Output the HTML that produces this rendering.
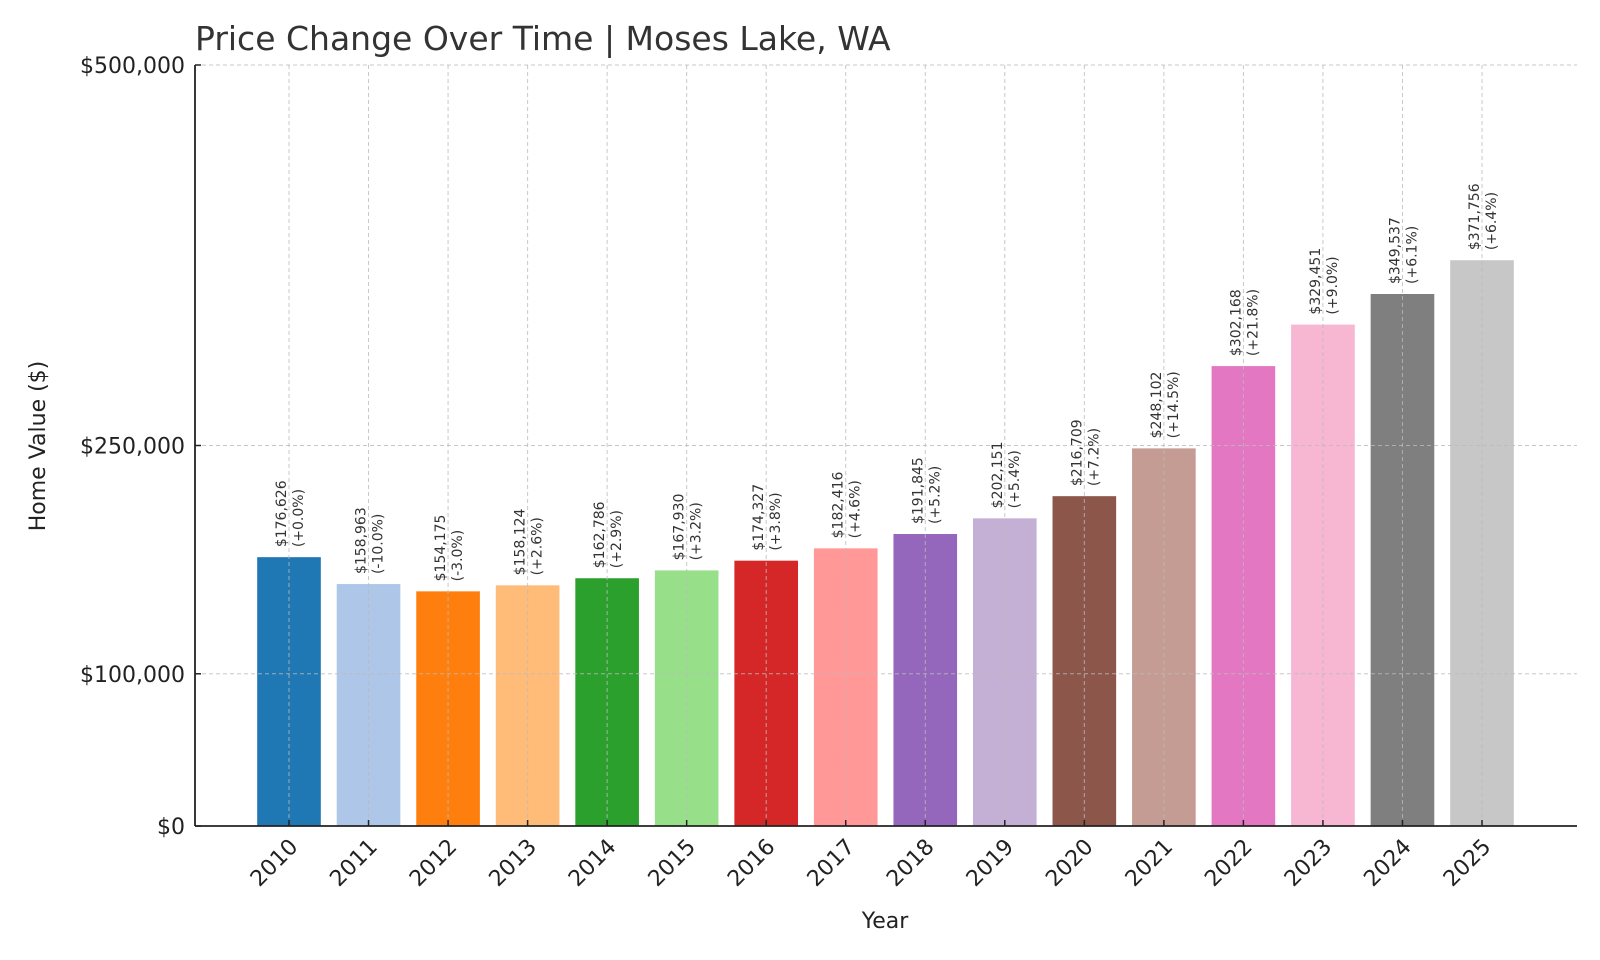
<!DOCTYPE html>
<html><head><meta charset="utf-8"><style>
body{margin:0;background:#fff}
svg{display:block;font-family:"DejaVu Sans","Liberation Sans",sans-serif}
</style></head><body>
<svg id="chart" width="1600" height="960" viewBox="0 0 1600 960">
<rect width="1600" height="960" fill="#fff"/>
<text x="195" y="50" font-size="33" fill="#333">Price Change Over Time | Moses Lake, WA</text>
<g id="bars"></g><g id="grid"></g><g id="labels"></g><g id="axes"></g>
<text x="885" y="928" font-size="22" text-anchor="middle" fill="#222">Year</text>
<text transform="translate(45,446) rotate(-90)" font-size="22" text-anchor="middle" fill="#222">Home Value ($)</text>
</svg>
<script>
const years=["2010","2011","2012","2013","2014","2015","2016","2017","2018","2019","2020","2021","2022","2023","2024","2025"];
const values=[176626,158963,154175,158124,162786,167930,174327,182416,191845,202151,216709,248102,302168,329451,349537,371756];
const changes=["+0.0%","-10.0%","-3.0%","+2.6%","+2.9%","+3.2%","+3.8%","+4.6%","+5.2%","+5.4%","+7.2%","+14.5%","+21.8%","+9.0%","+6.1%","+6.4%"];
const yTicks=[0,100000,250000,500000];
const yTickLabels=["$0","$100,000","$250,000","$500,000"];
const colors=["#1f77b4","#aec7e8","#ff7f0e","#ffbb78","#2ca02c","#98df8a","#d62728","#ff9896","#9467bd","#c5b0d5","#8c564b","#c49c94","#e377c2","#f7b6d2","#7f7f7f","#c7c7c7"];
const NS="http://www.w3.org/2000/svg";
const L=195,R=1577,T=65,B=826,yMax=500000;
const x0=289,step=(1482-289)/15,bw=step*0.8;
const xs=i=>x0+i*step;
const ys=v=>B-(v/yMax)*(B-T);
function mk(tag,attrs,parent){const e=document.createElementNS(NS,tag);for(const k in attrs)e.setAttribute(k,attrs[k]);parent.appendChild(e);return e;}
const gb=document.getElementById('bars'),gg=document.getElementById('grid'),gl=document.getElementById('labels'),ga=document.getElementById('axes');
values.forEach((v,i)=>{
  const r=mk('rect',{x:xs(i)-bw/2,y:ys(v),width:bw,height:B-ys(v),fill:colors[i]},gb);
  
  
  const t=mk('text',{transform:`translate(${xs(i)},${ys(v)-10}) rotate(-90)`,'font-size':14,fill:'#333'},gl);
  
  
  mk('tspan',{x:0,y:-3},t).textContent='$'+v.toLocaleString('en-US');
  mk('tspan',{x:0,y:14},t).textContent='('+changes[i]+')';
  const gv=mk('line',{x1:xs(i),x2:xs(i),y1:T,y2:B,stroke:'#bbb','stroke-width':1,'stroke-dasharray':'4,3',opacity:0.8},gg);
  
  
  mk('line',{x1:xs(i),x2:xs(i),y1:B,y2:B-6,stroke:'#222','stroke-width':1.5},ga);
  const xl=mk('text',{transform:`translate(${xs(i)+10},${B+22}) rotate(-45)`,'font-size':22,'text-anchor':'end',fill:'#222'},ga);
  
  
  xl.textContent=years[i];
});
yTicks.forEach((v,i)=>{
  if(v>0){const g=mk('line',{x1:L,x2:R,y1:ys(v),y2:ys(v),stroke:'#bbb','stroke-width':1,'stroke-dasharray':'4,3',opacity:0.8},gg);
  
  }
  mk('line',{x1:L,x2:L+6,y1:ys(v),y2:ys(v),stroke:'#222','stroke-width':1.5},ga);
  const t=mk('text',{x:L-10,y:ys(v)+8,'font-size':22,'text-anchor':'end',fill:'#222'},ga);
  
  
  t.textContent=yTickLabels[i];
});
const ay=mk('line',{x1:L,x2:L,y1:T,y2:B,stroke:'#222','stroke-width':1.8},ga);


const ax=mk('line',{x1:L,x2:R,y1:B,y2:B,stroke:'#222','stroke-width':1.8},ga);


</script>
</body></html>
